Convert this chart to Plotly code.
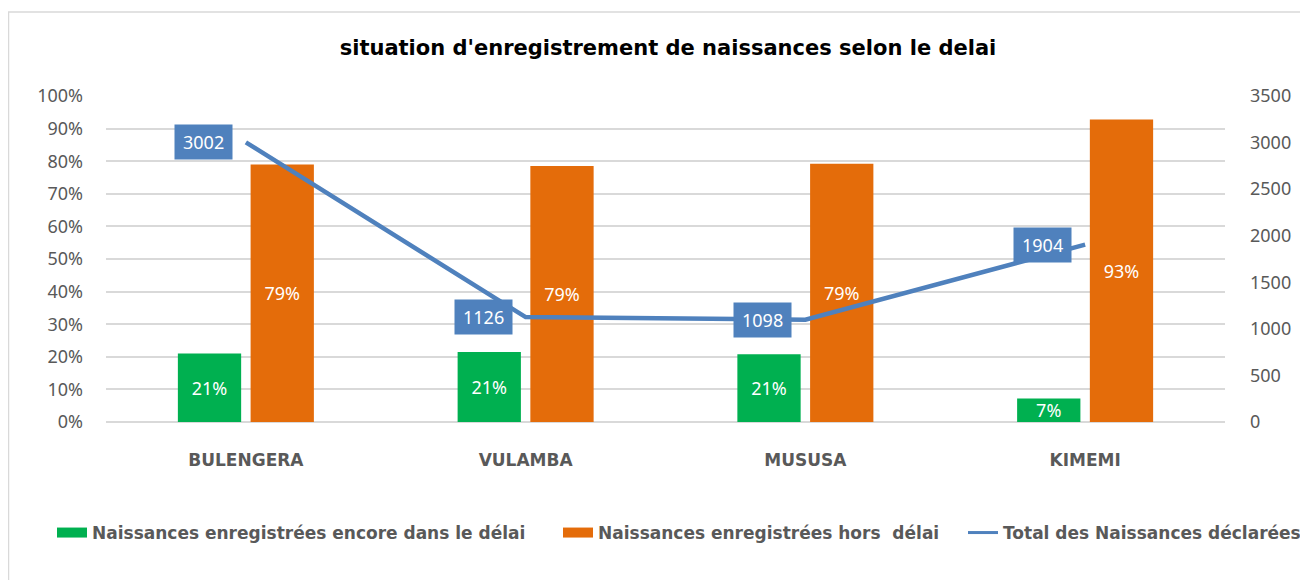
import plotly.graph_objects as go

categories = ["BULENGERA", "VULAMBA", "MUSUSA", "KIMEMI"]
dans_delai = [21.0, 21.5, 20.8, 7.2]
hors_delai = [79.0, 78.5, 79.2, 92.8]
dans_labels = ["21%", "21%", "21%", "7%"]
hors_labels = ["79%", "79%", "79%", "93%"]
total_declarees = [3002, 1126, 1098, 1904]

name_dans = "Naissances enregistrées encore dans le délai"
name_hors = "Naissances enregistrées hors  délai"
name_total = "Total des Naissances déclarées"

GREEN = "#00B050"
ORANGE = "#E46C0A"
BLUE = "#4F81BD"
GRAY = "#595959"
NUM_FONT = "Noto Sans"
BOLD_FONT = "DejaVu Sans"

fig = go.Figure()
fig.add_trace(go.Bar(
    x=categories, y=dans_delai, name=name_dans, showlegend=False,
    marker=dict(color=GREEN, line=dict(width=0)),
    text=dans_labels, textposition="inside", insidetextanchor="middle",
    textfont=dict(family=NUM_FONT, size=18, color="white"),
    constraintext="none",
))
fig.add_trace(go.Bar(
    x=categories, y=hors_delai, name=name_hors, showlegend=False,
    marker=dict(color=ORANGE, line=dict(width=0)),
    text=hors_labels, textposition="inside", insidetextanchor="middle",
    textfont=dict(family=NUM_FONT, size=18, color="white"),
    constraintext="none",
))
fig.add_trace(go.Scatter(
    x=categories, y=total_declarees, name=name_total, showlegend=False,
    mode="lines", yaxis="y2",
    line=dict(color=BLUE, width=4.5),
))

# legend entries (wide swatches as in the reference), one legend each for exact placement
legend_ids = ["legend", "legend2", "legend3"]
for nm, col, w, lg in [(name_dans, GREEN, 10, "legend"), (name_hors, ORANGE, 10, "legend2"),
                       (name_total, BLUE, 3, "legend3")]:
    fig.add_trace(go.Scatter(x=[None], y=[None], name=nm, mode="lines", legend=lg,
                             line=dict(color=col, width=w), showlegend=True))

for c, v in zip(categories, total_declarees):
    fig.add_annotation(
        x=c, y=v, xref="x", yref="y2", text="\u2009" + str(v) + "\u2009", showarrow=False,
        xanchor="right", yanchor="middle", xshift=-13,
        bgcolor=BLUE, borderpad=5,
        font=dict(family=NUM_FONT, size=18, color="white"),
    )

# chart frame
fig.add_shape(type="rect", xref="paper", yref="paper",
              x0=(-97.5) / 1119, x1=(1330 - 106) / 1119,
              y0=(422 - 600) / 326, y1=(422 - 12) / 326,
              line=dict(color="#D9D9D9", width=1.5), fillcolor="rgba(0,0,0,0)", layer="below")

legend_text_start = [94, 600, 1005]  # screen x where legend text begins
leg_common = dict(orientation="h", xref="container", yref="container",
                  xanchor="left", y=1 - (533 - 8) / 572, yanchor="middle",
                  font=dict(family=BOLD_FONT, size=17, color=GRAY, weight="bold"),
                  bgcolor="rgba(0,0,0,0)", borderwidth=0)
legends = {}
for lg, xs in zip(legend_ids, legend_text_start):
    legends[lg] = dict(leg_common, x=(xs - 8 - 42) / 1300)

fig.update_layout(
    width=1300, height=572,
    margin=dict(l=98, r=83, t=88, b=158),
    paper_bgcolor="white", plot_bgcolor="white",
    title=dict(text="<b>situation d'enregistrement de naissances selon le delai</b>",
               x=(668 - 8) / 1300, xanchor="center", y=1 - 40 / 572, yanchor="middle",
               font=dict(family=BOLD_FONT, size=21, color="black")),
    barmode="group", bargap=0.48, bargroupgap=0.13,
    xaxis=dict(showgrid=False, showline=False, ticks="",
               tickfont=dict(family=BOLD_FONT, size=17, color=GRAY, weight="bold"),
               ticklabelstandoff=26),
    yaxis=dict(range=[0, 100], dtick=10, ticksuffix="%", showgrid=True,
               gridcolor="#D9D9D9", gridwidth=1.5, zeroline=True, zerolinecolor="#D9D9D9",
               zerolinewidth=1.5, showline=False,
               tickfont=dict(family=NUM_FONT, size=18, color=GRAY),
               ticklabelstandoff=22),
    yaxis2=dict(range=[0, 3500], dtick=500, overlaying="y", side="right",
                showgrid=False, zeroline=False, showline=False,
                tickfont=dict(family=NUM_FONT, size=18, color=GRAY),
                ticklabelstandoff=24),
    showlegend=True,
    **legends,
)

fig.write_html("out.html")
